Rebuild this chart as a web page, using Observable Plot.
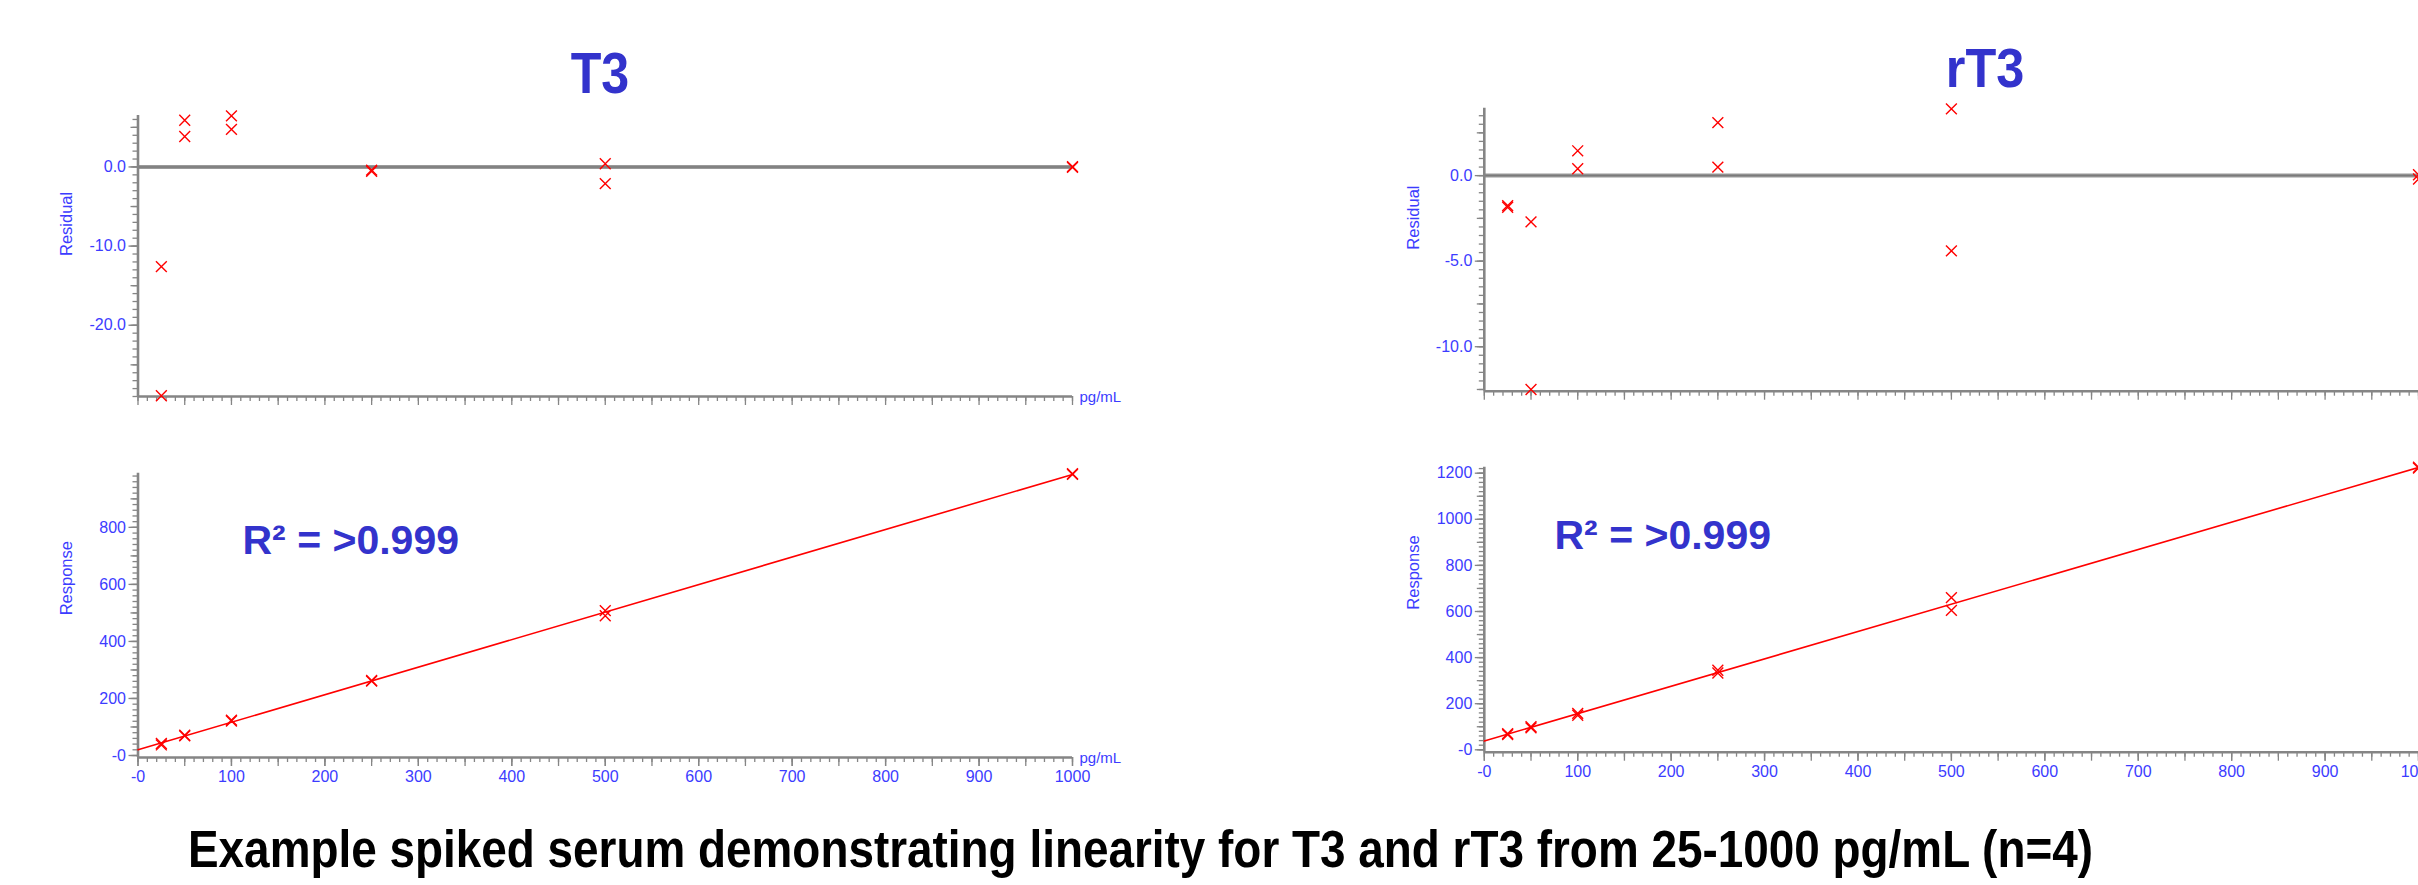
<!DOCTYPE html>
<html>
<head>
<meta charset="utf-8">
<script src="https://cdn.jsdelivr.net/npm/d3@7"></script>
<script src="https://cdn.jsdelivr.net/npm/@observablehq/plot@0.6"></script>
<style>
  html, body { margin: 0; padding: 0; background: #fff; overflow: hidden; }
  #page { position: relative; width: 2418px; height: 885px; overflow: hidden; background: #fff;
          font-family: "Liberation Sans", Arial, sans-serif; }
  .panel { position: absolute; }
  .title { position: absolute; font-weight: bold; line-height: 1; white-space: nowrap; }
</style>
</head>
<body>
<div id="page"></div>
<script>
// ---------------- data ----------------
const titles = ["T3", "rT3"];
const caption = "Example spiked serum demonstrating linearity for T3 and rT3 from 25-1000 pg/mL (n=4)";
const r2Label = "R² = >0.999";
const unitLabel = "pg/mL";

// concentration (pg/mL) of each visible replicate marker
const replicateConc = [25, 25, 50, 50, 100, 100, 250, 250, 500, 500, 1000, 1000];

const t3ResidualValues  = [-12.6, -28.9, 5.9, 3.85, 6.45, 4.75, -0.4, -0.55, 0.4, -2.1, 0.05, -0.05];
const t3ResponseValues  = [37, 42, 69, 71, 121, 124, 261, 263, 508, 490, 986, 988];
const rt3ResidualValues = [-1.75, -1.85, -2.7, -12.5, 1.45, 0.4, 3.1, 0.5, 3.9, -4.4, 0.05, -0.2];
const rt3ResponseValues = [66, 70, 95, 100, 150, 158, 333, 345, 660, 605, 1222, 1226];

// tick labels
const xTicks = [0, 100, 200, 300, 400, 500, 600, 700, 800, 900, 1000];
const t3ResidualTicks = [0, -10, -20];
const rt3ResidualTicks = [0, -5, -10];
const t3ResponseTicks = [0, 200, 400, 600, 800];
const rt3ResponseTicks = [0, 200, 400, 600, 800, 1000, 1200];

// axis domains
const xDomain = [0, 1000];
const t3ResidualDomain = [-29, 6.5];
const rt3ResidualDomain = [-12.6, 3.94];
const t3ResponseDomain = [-7, 990];
const rt3ResponseDomain = [-10.4, 1226];

// ---------------- styles ----------------
const RED = "#ff0000";
const GRAY = "#858585";
const TICKBLUE = "#3c3cff";
const TITLEBLUE = "#3333cc";
const FONT = "Liberation Sans, Arial, sans-serif";

const page = document.getElementById("page");

function linFit(xs, ys) {
  const mx = d3.mean(xs), my = d3.mean(ys);
  const b = d3.sum(xs, (x, i) => (x - mx) * (ys[i] - my)) / d3.sum(xs, x => (x - mx) ** 2);
  return {slope: b, intercept: my - b * mx};
}

function xAxisMarks(withLabels) {
  return [
    Plot.axisX(d3.range(0, 1001, 10), {anchor: "bottom", tickSize: 5, tickFormat: () => "", stroke: GRAY, strokeWidth: 1.3, label: null}),
    Plot.axisX(d3.range(0, 1001, 50), {anchor: "bottom", tickSize: 9, tickFormat: () => "", stroke: GRAY, strokeWidth: 1.3, label: null}),
    withLabels
      ? Plot.axisX(xTicks, {anchor: "bottom", tickSize: 9, tickPadding: 4, stroke: GRAY, strokeWidth: 1.3, fill: TICKBLUE,
          fontSize: 16, tickFormat: d => d === 0 ? "-0" : String(d), label: null})
      : null
  ];
}

function panel({left, top, width, height, frame, yDomain, marks}) {
  const [fx0, fx1, fy0, fy1] = frame;
  const div = document.createElement("div");
  div.className = "panel";
  div.style.left = left + "px";
  div.style.top = top + "px";
  const chart = Plot.plot({
    width, height,
    marginLeft: fx0 - left,
    marginRight: left + width - fx1,
    marginTop: fy0 - top,
    marginBottom: top + height - fy1,
    x: {domain: xDomain},
    y: {domain: yDomain},
    style: {background: "transparent", overflow: "visible", fontFamily: FONT, maxWidth: "none"},
    marks
  });
  div.appendChild(chart);
  page.appendChild(div);
}

function residualPanel(opts, values, majorTicks, minorStep, midStep, showUnit) {
  const data = replicateConc.map((c, i) => ({conc: c, value: values[i]}));
  const [lo, hi] = opts.yDomain;
  const minor = d3.range(Math.ceil(lo / minorStep) * minorStep, hi + 1e-9, minorStep);
  const mid = d3.range(Math.ceil(lo / midStep) * midStep, hi + 1e-9, midStep);
  panel({...opts, marks: [
    Plot.ruleY([0], {stroke: "#9a9a9a", strokeWidth: 4}),
    Plot.ruleY([0], {stroke: "#7a7a7a", strokeWidth: 1.5}),
    Plot.axisY(minor, {anchor: "left", tickSize: 5, tickFormat: () => "", stroke: GRAY, strokeWidth: 1.3, label: null}),
    Plot.axisY(mid, {anchor: "left", tickSize: 7, tickFormat: () => "", stroke: GRAY, strokeWidth: 1.3, label: null}),
    Plot.axisY(majorTicks, {anchor: "left", tickSize: 9, tickPadding: 3, stroke: GRAY, strokeWidth: 1.3, fill: TICKBLUE,
      fontSize: 16, tickFormat: d => d.toFixed(1), label: null}),
    ...xAxisMarks(false),
    Plot.ruleX([xDomain[0]], {stroke: GRAY, strokeWidth: 2.6}),
    Plot.ruleY([opts.yDomain[0]], {stroke: GRAY, strokeWidth: 2.6}),
    Plot.text(["Residual"], {frameAnchor: "left", rotate: -90, dx: -71, fill: TICKBLUE, fontSize: 16.5}),
    showUnit ? Plot.text([unitLabel], {frameAnchor: "bottom-right", textAnchor: "start", dx: 7, dy: 5, fill: TICKBLUE, fontSize: 15}) : null,
    Plot.dot(data, {x: "conc", y: "value", symbol: "times", r: 5, stroke: RED, strokeWidth: 1.4})
  ]});
}

function responsePanel(opts, values, majorTicks, r2dx, r2dy, showUnit) {
  const data = replicateConc.map((c, i) => ({conc: c, value: values[i]}));
  const {slope, intercept} = linFit(replicateConc, values);
  const [lo, hi] = opts.yDomain;
  const minor = d3.range(Math.ceil(lo / 20) * 20, hi + 1e-9, 20);
  const mid = d3.range(Math.ceil(lo / 100) * 100, hi + 1e-9, 100);
  panel({...opts, marks: [
    Plot.axisY(minor, {anchor: "left", tickSize: 5, tickFormat: () => "", stroke: GRAY, strokeWidth: 1.3, label: null}),
    Plot.axisY(mid, {anchor: "left", tickSize: 7, tickFormat: () => "", stroke: GRAY, strokeWidth: 1.3, label: null}),
    Plot.axisY(majorTicks, {anchor: "left", tickSize: 9, tickPadding: 3, stroke: GRAY, strokeWidth: 1.3, fill: TICKBLUE,
      fontSize: 16, tickFormat: d => d === 0 ? "-0" : String(d), label: null}),
    ...xAxisMarks(true),
    Plot.ruleX([xDomain[0]], {stroke: GRAY, strokeWidth: 2.6}),
    Plot.ruleY([opts.yDomain[0]], {stroke: GRAY, strokeWidth: 2.6}),
    Plot.text(["Response"], {frameAnchor: "left", rotate: -90, dx: -71, fill: TICKBLUE, fontSize: 16.5}),
    showUnit ? Plot.text([unitLabel], {frameAnchor: "bottom-right", textAnchor: "start", dx: 7, dy: 5, fill: TICKBLUE, fontSize: 15}) : null,
    Plot.text([r2Label], {frameAnchor: "top-left", textAnchor: "start", lineAnchor: "bottom", dx: r2dx, dy: r2dy,
      fill: TITLEBLUE, fontSize: 41, fontWeight: "bold"}),
    Plot.line(xDomain, {x: d => d, y: d => intercept + slope * d, stroke: RED, strokeWidth: 1.6}),
    Plot.dot(data, {x: "conc", y: "value", symbol: "times", r: 5, stroke: RED, strokeWidth: 1.4})
  ]});
}

// T3 column
residualPanel({left: 0, top: 0, width: 1200, height: 430, frame: [137.5, 1072, 115, 396], yDomain: t3ResidualDomain},
  t3ResidualValues, t3ResidualTicks, 1, 5, true);
responsePanel({left: 0, top: 430, width: 1200, height: 455, frame: [137.5, 1072, 472.7, 757], yDomain: t3ResponseDomain},
  t3ResponseValues, t3ResponseTicks, 104.5, 80.6, true);

// rT3 column (its right end, with the unit label, lies beyond the picture's edge)
residualPanel({left: 1300, top: 0, width: 1200, height: 430, frame: [1483.8, 2418, 107.7, 390.7], yDomain: rt3ResidualDomain},
  rt3ResidualValues, rt3ResidualTicks, 0.5, 2.5, false);
responsePanel({left: 1300, top: 430, width: 1200, height: 455, frame: [1483.8, 2418, 466.7, 751.7], yDomain: rt3ResponseDomain},
  rt3ResponseValues, rt3ResponseTicks, 70.2, 81.6, false);

// titles and caption
function addText(text, {center, left, baseline, size, color, scaleX}) {
  const el = document.createElement("div");
  el.className = "title";
  el.textContent = text;
  el.style.fontSize = size + "px";
  el.style.color = color;
  el.style.top = (baseline - 0.8465 * size) + "px";
  page.appendChild(el);
  if (center != null) {
    el.style.left = center + "px";
    el.style.transformOrigin = "50% 50%";
    el.style.transform = `translateX(-50%) scaleX(${scaleX})`;
  } else {
    el.style.left = left + "px";
    el.style.transformOrigin = "0 50%";
    el.style.transform = `scaleX(${scaleX})`;
  }
  return el;
}
addText(titles[0], {center: 600, baseline: 93, size: 57, color: TITLEBLUE, scaleX: 0.88});
addText(titles[1], {center: 1985, baseline: 87, size: 56, color: TITLEBLUE, scaleX: 0.9});
const cap = addText(caption, {left: 188, baseline: 867, size: 51, color: "#000", scaleX: 1});
const natural = cap.getBoundingClientRect().width;
cap.style.transform = `scaleX(${1905 / natural})`;
</script>
</body>
</html>
